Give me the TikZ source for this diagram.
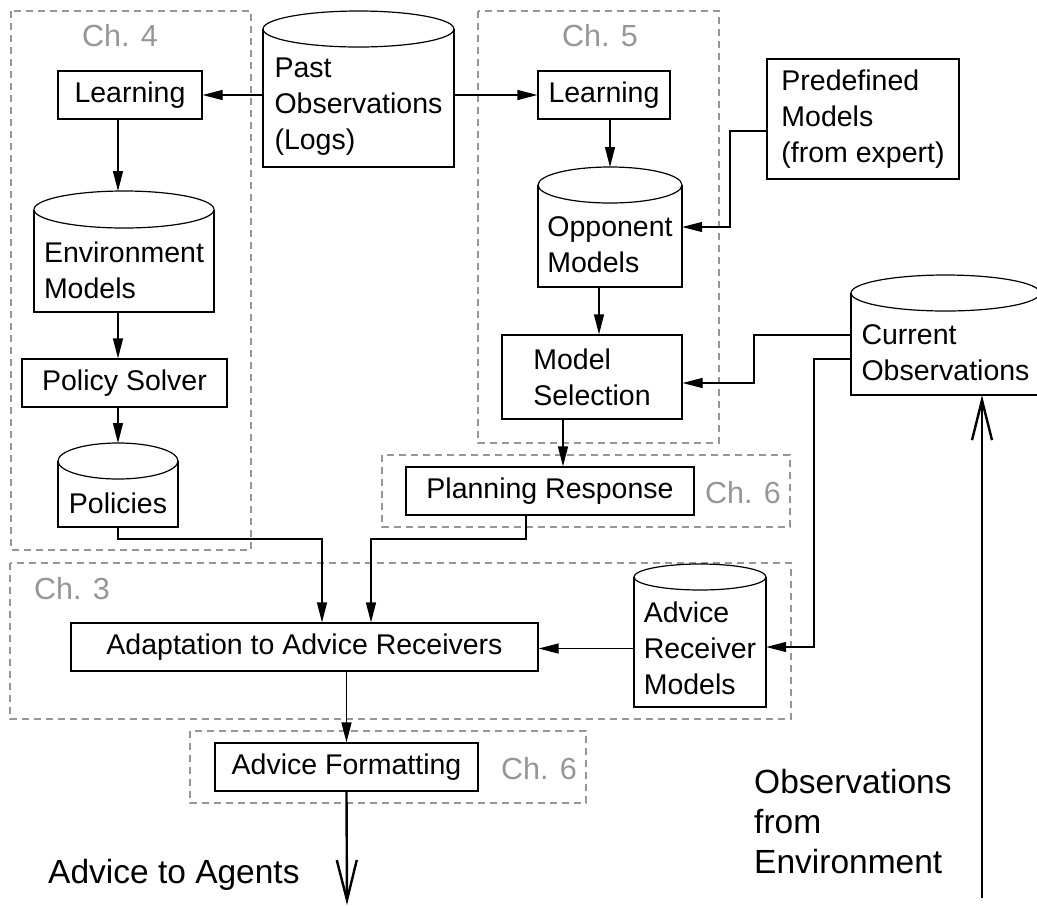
\documentclass[tikz,border=0pt]{standalone}
\usepackage{fontspec}
\setmainfont{Liberation Sans}
\usetikzlibrary{arrows.meta,calc}
\definecolor{chgray}{RGB}{150,150,150}
\newcommand\nf{\fontsize{28.5}{36}\selectfont}
\newcommand\mkbox[7][]{%
  \node[boxnode,#1,minimum width={(#5-#3)*1pt},minimum height={(#6-#4)*1pt}] (#2) at ({(#3+#5)/2},{(#4+#6)/2}) {#7};}
\newcommand\mkcyl[7]{%
  \node[cylnode,minimum width={(#4-#2)*1pt},minimum height={(#5-#3-2*#6)*1pt}] (#1) at ({(#2+#4)/2},{(#3+2*#6+#5)/2}) {#7};
  \coordinate (#1-top) at ({(#2+#4)/2},#3);
  \draw[solidline] (#2,{#3+#6}) -- (#2,#5) -- (#4,#5) -- (#4,{#3+#6});
  \draw[solidline] ({(#2+#4)/2},{#3+#6}) ellipse [x radius={(#4-#2)*0.5pt}, y radius={#6*1pt}];}
\tikzset{
  solidline/.style={line width=1.2pt,draw=black},
  boxnode/.style={draw,line width=1.2pt,inner sep=0pt,font=\nf,align=center},
  cylnode/.style={inner sep=0pt,font=\nf,align=left},
  chbox/.style={draw=chgray,line width=1.1pt,dash pattern=on 7pt off 5pt},
  chlabel/.style={text=chgray,font=\fontsize{30.5}{36}\selectfont,inner sep=0pt},
  bigtext/.style={font=\fontsize{33.5}{40}\selectfont,inner sep=0pt},
  conn/.style={line width=1.2pt,-{Triangle[length=20pt,width=10pt]}},
  big/.style={line width=2.4pt,-{Straight Barb[length=40pt,width=20pt]}}
}
\begin{document}
\begin{tikzpicture}[x=1pt,y=-1pt]
\useasboundingbox (0,0) rectangle (1037,906);
\clip (0,0) rectangle (1037,906);
% chapter boxes
\draw[chbox] (11,11) rectangle (251,550);
\draw[chbox] (478,11) rectangle (719,443);
\draw[chbox] (382,455) rectangle (790,527);
\draw[chbox] (10,563) rectangle (791,719);
\draw[chbox] (190,731) rectangle (586,803);
\node[chlabel] (c4) at (120,36) {Ch. 4};
\node[chlabel] (c5) at (600,36) {Ch. 5};
\node[chlabel] (c6a) at (743,493) {Ch. 6};
\node[chlabel] (c3) at (72,589) {Ch. 3};
\node[chlabel] (c6b) at (539,769) {Ch. 6};
% boxes
\mkbox{learn4}{58}{71}{202}{119}{Learning}
\mkbox{learn5}{538}{71}{670}{119}{Learning}
\mkbox[align=left]{pre}{767}{59}{959}{179}{Predefined\\Models\\(from expert)}
\mkbox{ps}{22}{359}{227}{407}{Policy Solver}
\mkbox[align=left]{ms}{502}{335}{682}{419}{Model\\Selection}
\mkbox{plan}{406}{467}{694}{515}{Planning Response}
\mkbox{adapt}{71}{623}{538}{671}{Adaptation to Advice Receivers}
\mkbox{fmt}{215}{743}{478}{791}{Advice Formatting}
% cylinders
\mkcyl{past}{263}{11}{454}{167}{18}{Past\\Observations\\(Logs)}
\mkcyl{env}{34}{191}{214}{312}{18.5}{Environment\\Models}
\mkcyl{pol}{58}{443}{178}{527}{18}{Policies}
\mkcyl{opp}{538}{167}{682}{287}{18}{Opponent\\Models}
\mkcyl{cur}{851}{275}{1040}{395}{18}{Current\\Observations}
\mkcyl{adv}{634}{564}{766}{707}{13}{Advice\\Receiver\\Models}
% free texts
\node[bigtext,anchor=base west] (agents) at (48,883) {Advice to Agents};
\node[bigtext,anchor=west,align=left] (obsenv) at (754,822) {Observations\\from\\Environment};
% junctions
\coordinate (j1) at (322,539);
\coordinate (j2) at (371,539);
\coordinate (j3) at (526,539);
\coordinate (j4) at (730,227);
\coordinate (j5) at (754,383);
\coordinate (j6) at (814,647);
\coordinate (outend) at (347,905);
\coordinate (instart) at (982,898);
% connectors
\draw[conn] (past.west |- learn4.east) -- (learn4.east);
\draw[conn] (past.east |- learn5.west) -- (learn5.west);
\draw[conn] (learn4.south -| pol.south) -- (env-top -| pol.south);
\draw[conn] (env.south -| pol.south) -- (ps.north -| pol.south);
\draw[conn] (ps.south -| pol.south) -- (pol-top);
\draw[conn] (pol.south) |- (j1) -- (j1 |- adapt.north);
\draw[conn] (j3 |- plan.south) -- (j3) -- (j2) -- (j2 |- adapt.north);
\draw[conn] (learn5.south -| opp.south) -- (opp-top);
\draw[conn] ([xshift=-11pt]opp.south) -- ([xshift=-11pt]opp.south |- ms.north);
\draw[conn] ([yshift=-12pt]pre.west) -| (j4) -- (j4 -| opp.east);
\draw[conn] ([yshift=18pt]cur.west) -| (j5) -- (j5 -| ms.east);
\draw[conn] ([yshift=-6pt]cur.west) -| (j6) -- (j6 -| adv.east);
\draw[conn] (adv.west) -- (adv.west -| adapt.east);
\draw[conn] ([xshift=-29pt]ms.south) -- ([xshift=-29pt]ms.south |- plan.north);
\draw[conn] (fmt.north |- adapt.south) -- (fmt.north);
\draw[big] (fmt.south) -- (outend);
\draw[big] (instart) -- (instart |- cur.south);
\end{tikzpicture}
\end{document}
